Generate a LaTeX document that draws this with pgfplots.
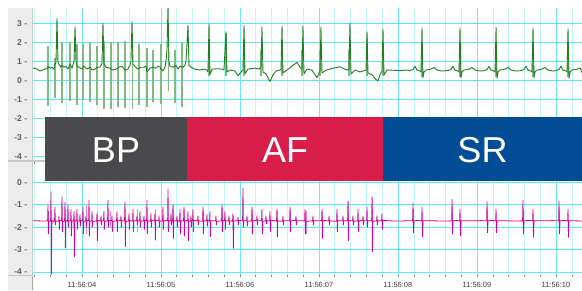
\documentclass[border=0pt]{standalone}
\usepackage{pgfplots}
\pgfplotsset{compat=1.18}
\usepackage{fontspec}
\setmainfont{Liberation Sans}
\definecolor{stripgray}{RGB}{236,236,236}
\definecolor{sepgray}{RGB}{200,200,200}
\definecolor{gridmaj}{RGB}{110,232,245}
\definecolor{gridmin}{RGB}{190,246,251}
\definecolor{gridy}{RGB}{95,230,243}
\definecolor{dgreen}{RGB}{35,125,35}
\definecolor{lgreen}{RGB}{130,185,130}
\definecolor{dmag}{RGB}{212,0,152}
\definecolor{lmag}{RGB}{236,130,210}
\definecolor{bpgray}{RGB}{74,74,76}
\definecolor{afred}{RGB}{216,30,72}
\definecolor{srblue}{RGB}{0,77,150}
\definecolor{ticktext}{RGB}{95,95,95}
\definecolor{xtext}{RGB}{60,60,60}
\pgfplotsset{
  ecgaxis/.style={
    scale only axis, width=549pt, anchor=south west,
    xmin=3.38, xmax=10.329,
    axis line style={draw=none},
    xtick={4,5,6,7,8,9,10},
    minor xtick={3.4,3.6,...,10.2},
    xmajorgrids, xminorgrids, ymajorgrids=false,
    major x grid style={draw=gridmaj, line width=0.6pt},
    minor x grid style={draw=gridmin, line width=0.6pt},
    tick align=outside,
    major tick length=2pt, minor tick length=2pt,
    ytick style={draw=none},
    yticklabel style={font=\fontsize{8.5}{9}\selectfont\bfseries, text=ticktext, inner sep=1pt, xshift=-2.5pt},
    unbounded coords=jump,
  }
}
\begin{document}
\begin{tikzpicture}
\useasboundingbox (0pt,0pt) rectangle (582pt,290pt);
\fill[white] (0pt,0pt) rectangle (582pt,290pt);
\fill[stripgray] (8pt,0pt) rectangle (32pt,281.7pt);
\draw[sepgray, line width=0.6pt] (32.4pt,0pt) -- (32.4pt,281.7pt);

% ---------- top panel ----------
\begin{axis}[ecgaxis, at={(33pt,129pt)}, height=152.7pt,
  ymin=-4.22, ymax=3.79,
  ytick={-4,-3,-2,-1,0,1,2,3},
  yticklabels={{-4\hspace{2.5pt}-},{-3\hspace{2.5pt}-},{-2\hspace{2.5pt}-},{-1\hspace{2.5pt}-},{0\hspace{2.5pt}-},{1\hspace{2.5pt}-},{2\hspace{2.5pt}-},{3\hspace{2.5pt}-}},
  xticklabels={}, xtick style={draw=none}]
\foreach \g in {-4,-3,-2,-1,0,1,2,3}{
  \edef\temp{\noexpand\draw[gridy, line width=0.7pt] (axis cs:3.38,\g) -- (axis cs:10.329,\g);}
  \temp
}
\addplot[lgreen, line width=1.3pt] coordinates {
(3.570,1.8)(3.570,-1.35)(3.570,nan)
(3.658,1.2)(3.658,-0.9)(3.658,nan)
(3.747,2.0)(3.747,-1.2)(3.747,nan)
(3.848,2.0)(3.848,-1.05)(3.848,nan)
(3.937,1.9)(3.937,-1.3)(3.937,nan)
(4.013,1.9)(4.013,-1.0)(4.013,nan)
(4.101,2.0)(4.101,-1.15)(4.101,nan)
(4.190,1.8)(4.190,-1.3)(4.190,nan)
(4.278,2.1)(4.278,-1.5)(4.278,nan)
(4.367,2.0)(4.367,-1.5)(4.367,nan)
(4.456,2.0)(4.456,-1.4)(4.456,nan)
(4.544,2.1)(4.544,-1.45)(4.544,nan)
(4.640,2.0)(4.640,-1.5)(4.640,nan)
(4.722,1.9)(4.722,-1.3)(4.722,nan)
(4.823,1.7)(4.823,-1.4)(4.823,nan)
(4.899,1.6)(4.899,-1.1)(4.899,nan)
(5.000,1.9)(5.000,-1.25)(5.000,nan)
(5.095,2.4)(5.095,-0.55)(5.095,nan)
(5.177,1.6)(5.177,-1.2)(5.177,nan)
(5.266,2.0)(5.266,-1.4)(5.266,nan)
};
\addplot[lgreen, line width=2pt] coordinates {
(5.602,0.25)(5.602,1.6)(5.602,nan)
(5.817,0.25)(5.817,2.5)(5.817,nan)
(6.045,0.25)(6.045,1.6)(6.045,nan)
(6.272,0.25)(6.272,1.6)(6.272,nan)
(6.526,0.25)(6.526,1.6)(6.526,nan)
(6.791,0.25)(6.791,1.6)(6.791,nan)
(7.019,0.25)(7.019,1.6)(7.019,nan)
(7.386,0.25)(7.386,1.6)(7.386,nan)
(7.602,0.25)(7.602,2.2)(7.602,nan)
(7.804,0.25)(7.804,1.6)(7.804,nan)
(8.298,0.2)(8.298,1.3)(8.298,nan)
(8.779,0.2)(8.779,1.3)(8.779,nan)
(9.235,0.2)(9.235,1.3)(9.235,nan)
(9.703,0.2)(9.703,1.3)(9.703,nan)
(10.146,0.2)(10.146,1.3)(10.146,nan)
};
\addplot[dgreen, line width=0.9pt, line join=round] coordinates {
(3.380,0.65)(3.418,0.63)(3.469,0.50)(3.507,0.55)(3.532,0.62)(3.557,0.60)(3.570,0.75)(3.595,0.65)(3.620,0.70)(3.646,0.60)(3.658,0.85)(3.671,0.95)(3.684,3.25)(3.696,1.00)(3.709,0.85)(3.734,0.70)(3.747,0.80)(3.772,0.70)(3.798,0.75)(3.823,0.60)(3.848,0.85)(3.874,0.65)(3.899,1.00)(3.912,2.80)(3.924,1.00)(3.937,0.75)(3.962,0.70)(4.000,0.60)(4.025,0.75)(4.063,0.60)(4.101,0.70)(4.127,0.55)(4.165,0.60)(4.190,0.70)(4.228,0.70)(4.253,0.90)(4.266,3.00)(4.278,0.90)(4.304,0.70)(4.354,0.65)(4.393,0.55)(4.430,0.60)(4.468,0.70)(4.506,0.75)(4.544,0.55)(4.582,0.60)(4.608,0.80)(4.620,1.00)(4.633,3.10)(4.646,0.85)(4.671,0.75)(4.709,0.60)(4.747,0.70)(4.785,0.70)(4.810,0.75)(4.823,0.45)(4.861,0.65)(4.899,0.70)(4.937,0.65)(4.962,0.75)(4.987,0.70)(5.025,0.50)(5.051,0.70)(5.063,1.00)(5.076,1.60)(5.089,3.90)(5.101,1.00)(5.114,0.75)(5.152,0.70)(5.190,0.80)(5.215,0.60)(5.241,0.75)(5.279,0.70)(5.304,0.80)(5.316,1.00)(5.342,2.90)(5.354,0.80)(5.380,0.70)(5.430,0.60)(5.494,0.55)(5.544,0.60)(5.582,0.55)(5.595,0.45)(5.608,2.95)(5.620,0.30)(5.646,0.60)(5.722,0.62)(5.772,0.60)(5.797,0.55)(5.823,2.55)(5.835,0.45)(5.873,0.55)(5.937,0.50)(5.975,0.25)(6.013,0.45)(6.038,0.55)(6.051,2.90)(6.063,0.35)(6.101,0.60)(6.190,0.65)(6.241,0.60)(6.266,0.70)(6.278,2.80)(6.291,0.45)(6.329,0.35)(6.380,-0.05)(6.418,0.30)(6.456,0.50)(6.506,0.55)(6.519,0.60)(6.532,2.85)(6.544,0.40)(6.595,0.55)(6.671,0.80)(6.722,0.95)(6.760,0.70)(6.785,0.60)(6.797,2.85)(6.810,0.35)(6.848,0.60)(6.911,0.55)(6.975,0.15)(7.013,0.50)(7.025,2.80)(7.038,0.40)(7.089,0.55)(7.177,0.65)(7.266,0.72)(7.354,0.55)(7.380,0.60)(7.392,3.00)(7.405,0.35)(7.456,0.55)(7.519,0.45)(7.595,0.55)(7.608,2.55)(7.620,0.40)(7.671,0.30)(7.709,0.10)(7.747,-0.02)(7.772,0.30)(7.797,0.50)(7.810,2.70)(7.823,0.30)(7.861,0.55)(7.899,0.55)(8.025,0.52)(8.100,0.55)
(8.152,0.52)(8.190,0.58)(8.215,0.75)(8.241,0.55)(8.279,0.50)(8.291,0.45)(8.304,2.75)(8.316,0.15)(8.329,0.45)(8.354,0.55)(8.418,0.60)(8.456,0.68)(8.494,0.55)(8.557,0.50)
(8.633,0.53)(8.671,0.58)(8.696,0.76)(8.722,0.55)(8.759,0.50)(8.772,0.45)(8.785,2.75)(8.797,0.15)(8.810,0.45)(8.835,0.55)(8.899,0.60)(8.937,0.68)(8.975,0.55)(9.038,0.50)
(9.089,0.52)(9.127,0.58)(9.152,0.74)(9.177,0.55)(9.215,0.50)(9.228,0.45)(9.241,2.78)(9.253,0.12)(9.266,0.45)(9.291,0.55)(9.355,0.60)(9.393,0.68)(9.431,0.55)(9.494,0.50)
(9.557,0.52)(9.595,0.58)(9.620,0.75)(9.646,0.55)(9.684,0.50)(9.696,0.45)(9.709,2.75)(9.722,0.15)(9.734,0.45)(9.760,0.55)(9.823,0.60)(9.861,0.68)(9.899,0.55)(9.962,0.50)
(10.000,0.52)(10.038,0.58)(10.063,0.75)(10.089,0.55)(10.127,0.50)(10.139,0.45)(10.152,2.72)(10.165,0.12)(10.177,0.45)(10.203,0.55)(10.266,0.60)(10.304,0.66)(10.342,0.30)
};
\end{axis}

% ---------- bottom panel ----------
\begin{axis}[ecgaxis, at={(33pt,15pt)}, height=111pt,
  ymin=-4.14, ymax=0.82,
  ytick={-4,-3,-2,-1,0},
  yticklabels={{-4\hspace{2.5pt}-},{-3\hspace{2.5pt}-},{-2\hspace{2.5pt}-},{-1\hspace{2.5pt}-},{0\hspace{2.5pt}-}},
  xticklabels={11:56:04,11:56:05,11:56:06,11:56:07,11:56:08,11:56:09,11:56:10},
  xticklabel style={font=\fontsize{7.5}{8}\selectfont, text=xtext, yshift=-1.5pt},
  xtick style={draw=gray, line width=0.6pt}]
\foreach \g in {-4,-3,-2,-1,0}{
  \edef\temp{\noexpand\draw[gridy, line width=0.7pt] (axis cs:3.38,\g) -- (axis cs:10.329,\g);}
  \temp
}
\addplot[lmag, line width=1.4pt] coordinates {
(3.575,-1.3)(3.575,-2.3)(3.575,nan)
(3.790,-1.2)(3.790,-2.9)(3.790,nan)
(3.906,-1.5)(3.906,-3.3)(3.906,nan)
(4.060,-1.0)(4.060,-2.3)(4.060,nan)
(4.197,-1.3)(4.197,-2.6)(4.197,nan)
(4.360,-1.3)(4.360,-2.0)(4.360,nan)
(4.551,-1.2)(4.551,-2.8)(4.551,nan)
(4.700,-1.2)(4.700,-2.2)(4.700,nan)
(4.931,-1.2)(4.931,-2.5)(4.931,nan)
(5.160,-1.0)(5.160,-2.5)(5.160,nan)
(5.300,-1.2)(5.300,-2.4)(5.300,nan)
(5.540,-1.2)(5.540,-2.3)(5.540,nan)
(5.780,-1.1)(5.780,-2.2)(5.780,nan)
(5.918,-1.5)(5.918,-2.9)(5.918,nan)
(6.160,-1.2)(6.160,-2.3)(6.160,nan)
(6.475,-1.3)(6.475,-2.4)(6.475,nan)
(6.640,-1.2)(6.640,-2.2)(6.640,nan)
(6.833,-1.3)(6.833,-2.3)(6.833,nan)
(7.048,-1.3)(7.048,-2.5)(7.048,nan)
(7.374,-0.9)(7.374,-2.6)(7.374,nan)
(7.678,-0.7)(7.678,-3.1)(7.678,nan)
(8.198,-1.2)(8.198,-2.25)(8.198,nan)
(8.692,-1.3)(8.692,-2.3)(8.692,nan)
(9.135,-1.3)(9.135,-2.25)(9.135,nan)
(9.590,-1.3)(9.590,-2.3)(9.590,nan)
(10.046,-1.3)(10.046,-2.3)(10.046,nan)
};
\addplot[dmag, line width=0.8pt, line join=round] coordinates {
(3.380,-1.72)(3.450,-1.72)(3.520,-1.73)(3.560,-1.72)
(3.565,-1.72)(3.570,-1.00)(3.575,-2.30)(3.581,-1.74)
(3.603,-1.72)(3.608,-0.42)(3.613,-4.10)(3.619,-1.70)(3.640,-1.75)
(3.653,-1.72)(3.658,-1.10)(3.663,-1.90)(3.669,-1.72)
(3.704,-1.74)(3.709,-1.50)(3.714,-2.10)(3.720,-1.70)
(3.742,-1.72)(3.747,-0.64)(3.752,-2.20)(3.758,-1.75)
(3.780,-1.72)(3.785,-0.90)(3.790,-2.94)(3.796,-1.70)
(3.818,-1.74)(3.823,-1.00)(3.828,-2.00)(3.834,-1.72)
(3.856,-1.72)(3.861,-1.20)(3.866,-2.40)(3.872,-1.75)
(3.894,-1.70)(3.899,-1.30)(3.904,-3.32)(3.910,-1.72)
(3.932,-1.72)(3.937,-1.20)(3.942,-2.10)(3.948,-1.74)
(3.970,-1.72)(3.975,-1.45)(3.980,-1.95)(3.986,-1.70)
(4.008,-1.72)(4.013,-1.10)(4.018,-2.30)(4.024,-1.74)
(4.046,-1.72)(4.051,-1.50)(4.056,-2.00)(4.062,-1.72)
(4.084,-1.70)(4.089,-0.80)(4.094,-2.40)(4.100,-1.73)
(4.122,-1.72)(4.127,-1.30)(4.132,-2.00)(4.138,-1.75)
(4.185,-1.72)(4.190,-1.40)(4.195,-2.60)(4.201,-1.70)
(4.236,-1.73)(4.241,-1.50)(4.246,-1.90)(4.252,-1.72)
(4.273,-1.72)(4.278,-1.30)(4.283,-2.10)(4.289,-1.74)
(4.324,-1.72)(4.329,-0.80)(4.334,-2.00)(4.340,-1.70)
(4.375,-1.72)(4.380,-1.50)(4.385,-2.20)(4.391,-1.74)
(4.438,-1.72)(4.443,-1.30)(4.448,-2.20)(4.454,-1.72)
(4.489,-1.70)(4.494,-1.50)(4.499,-2.00)(4.505,-1.72)
(4.539,-1.72)(4.544,-0.90)(4.549,-2.87)(4.555,-1.75)
(4.590,-1.72)(4.595,-1.40)(4.600,-2.10)(4.606,-1.70)
(4.641,-1.74)(4.646,-1.20)(4.651,-2.20)(4.657,-1.72)
(4.691,-1.72)(4.696,-1.50)(4.701,-1.90)(4.707,-1.72)
(4.729,-1.72)(4.734,-1.30)(4.739,-2.00)(4.745,-1.74)
(4.780,-1.72)(4.785,-1.50)(4.790,-2.10)(4.796,-1.70)
(4.818,-1.72)(4.823,-0.80)(4.828,-2.30)(4.834,-1.72)
(4.868,-1.74)(4.873,-1.40)(4.878,-2.00)(4.884,-1.72)
(4.919,-1.72)(4.924,-1.40)(4.929,-2.58)(4.935,-1.70)
(4.970,-1.72)(4.975,-1.50)(4.980,-2.00)(4.986,-1.74)
(5.020,-1.72)(5.025,-1.10)(5.030,-2.10)(5.036,-1.72)
(5.084,-1.70)(5.089,-0.30)(5.094,-2.20)(5.100,-1.72)
(5.122,-1.72)(5.127,-1.40)(5.132,-1.90)(5.138,-1.74)
(5.147,-1.72)(5.152,-1.00)(5.157,-2.50)(5.163,-1.72)
(5.198,-1.72)(5.203,-1.50)(5.208,-2.00)(5.214,-1.70)
(5.236,-1.74)(5.241,-1.20)(5.246,-2.30)(5.252,-1.72)
(5.286,-1.72)(5.291,-1.10)(5.296,-2.40)(5.302,-1.72)
(5.337,-1.70)(5.342,-1.30)(5.347,-2.60)(5.353,-1.74)
(5.375,-1.72)(5.380,-1.50)(5.385,-2.00)(5.391,-1.72)
(5.400,-1.72)(5.405,-1.20)(5.410,-2.20)(5.416,-1.70)
(5.463,-1.72)(5.468,-1.50)(5.473,-1.90)(5.479,-1.72)
(5.527,-1.74)(5.532,-1.10)(5.537,-2.30)(5.543,-1.72)
(5.577,-1.72)(5.582,-1.45)(5.587,-1.95)(5.593,-1.70)
(5.615,-1.72)(5.620,-1.30)(5.625,-2.43)(5.631,-1.72)
(5.691,-1.72)(5.696,-1.50)(5.701,-1.90)(5.707,-1.74)
(5.767,-1.72)(5.772,-1.00)(5.777,-2.20)(5.783,-1.72)
(5.805,-1.70)(5.810,-1.30)(5.815,-2.10)(5.821,-1.72)
(5.856,-1.72)(5.861,-1.50)(5.866,-1.90)(5.872,-1.72)
(5.906,-1.74)(5.911,-1.40)(5.916,-2.95)(5.922,-1.72)
(5.970,-1.72)(5.975,-1.55)(5.980,-1.90)(5.986,-1.70)
(6.033,-1.72)(6.038,-0.27)(6.043,-2.00)(6.049,-1.72)
(6.084,-1.72)(6.089,-1.50)(6.094,-1.95)(6.100,-1.74)
(6.147,-1.72)(6.152,-1.10)(6.157,-2.30)(6.163,-1.72)
(6.210,-1.70)(6.215,-1.50)(6.220,-1.90)(6.226,-1.72)
(6.273,-1.72)(6.278,-1.20)(6.283,-2.30)(6.289,-1.74)
(6.324,-1.72)(6.329,-1.50)(6.334,-1.85)(6.340,-1.72)
(6.375,-1.72)(6.380,-1.30)(6.385,-2.20)(6.391,-1.70)
(6.463,-1.72)(6.468,-1.20)(6.473,-2.44)(6.479,-1.72)
(6.539,-1.74)(6.544,-1.50)(6.549,-1.90)(6.555,-1.72)
(6.628,-1.72)(6.633,-1.10)(6.638,-2.20)(6.644,-1.72)
(6.704,-1.70)(6.709,-1.50)(6.714,-1.90)(6.720,-1.72)
(6.818,-1.72)(6.823,-1.20)(6.828,-2.30)(6.834,-1.74)
(6.919,-1.72)(6.924,-1.50)(6.929,-1.90)(6.935,-1.72)
(7.033,-1.72)(7.038,-1.20)(7.043,-2.50)(7.049,-1.70)
(7.122,-1.72)(7.127,-1.50)(7.132,-1.90)(7.138,-1.72)
(7.223,-1.74)(7.228,-1.20)(7.233,-2.20)(7.239,-1.72)
(7.299,-1.72)(7.304,-1.50)(7.309,-1.90)(7.315,-1.72)
(7.362,-1.72)(7.367,-0.83)(7.372,-2.60)(7.378,-1.70)
(7.425,-1.72)(7.430,-1.50)(7.435,-1.90)(7.441,-1.74)
(7.489,-1.72)(7.494,-1.20)(7.499,-2.20)(7.505,-1.72)
(7.552,-1.70)(7.557,-1.50)(7.562,-1.90)(7.568,-1.72)
(7.603,-1.72)(7.608,-1.10)(7.613,-2.00)(7.619,-1.72)
(7.666,-1.72)(7.671,-0.64)(7.676,-3.10)(7.682,-1.74)
(7.729,-1.72)(7.734,-1.50)(7.739,-1.90)(7.745,-1.72)
(7.792,-1.72)(7.797,-1.40)(7.802,-2.10)(7.808,-1.70)
(7.900,-1.72)(8.000,-1.73)(8.100,-1.72)(8.170,-1.72)
(8.185,-1.72)(8.190,-0.94)(8.196,-2.25)(8.203,-1.72)(8.250,-1.70)(8.290,-1.72)
(8.299,-1.72)(8.304,-1.12)(8.310,-2.43)(8.317,-1.72)
(8.450,-1.72)(8.600,-1.73)(8.670,-1.72)
(8.679,-1.72)(8.684,-0.76)(8.690,-2.30)(8.697,-1.72)(8.740,-1.70)(8.775,-1.72)
(8.780,-1.72)(8.785,-1.20)(8.791,-2.40)(8.798,-1.72)
(8.950,-1.72)(9.050,-1.71)(9.115,-1.72)
(9.122,-1.72)(9.127,-0.87)(9.133,-2.25)(9.140,-1.72)(9.190,-1.70)(9.230,-1.72)
(9.236,-1.72)(9.241,-1.20)(9.247,-2.25)(9.254,-1.72)
(9.400,-1.72)(9.500,-1.73)(9.570,-1.72)
(9.577,-1.72)(9.582,-0.80)(9.588,-2.30)(9.595,-1.72)(9.650,-1.70)(9.700,-1.72)
(9.704,-1.72)(9.709,-1.20)(9.715,-2.45)(9.722,-1.72)
(9.850,-1.72)(9.950,-1.71)(10.025,-1.72)
(10.033,-1.72)(10.038,-0.83)(10.044,-2.30)(10.051,-1.72)(10.100,-1.70)(10.140,-1.72)
(10.147,-1.72)(10.152,-1.20)(10.158,-2.45)(10.165,-1.72)
(10.250,-1.72)(10.340,-1.73)
};
\end{axis}

% separators in the left strip
\fill[sepgray] (8pt,127.6pt) rectangle (45pt,130.2pt);
\fill[sepgray] (8pt,13.6pt) rectangle (33pt,15.2pt);
\draw[gray!70, line width=0.6pt] (31.8pt,0pt) -- (31.8pt,14pt);

% rhythm band
\fill[bpgray] (45pt,109.3pt) rectangle (187pt,173.3pt);
\fill[afred] (187pt,109.3pt) rectangle (383pt,173.3pt);
\fill[srblue] (383pt,109.3pt) rectangle (582pt,173.3pt);
\node[anchor=base, text=white, inner sep=0pt, font=\fontsize{36}{36}\selectfont] at (116pt,127.3pt) {BP};
\node[anchor=base, text=white, inner sep=0pt, font=\fontsize{36}{36}\selectfont] at (285pt,127.3pt) {AF};
\node[anchor=base, text=white, inner sep=0pt, font=\fontsize{36}{36}\selectfont] at (482.5pt,127.3pt) {SR};
\end{tikzpicture}
\end{document}
